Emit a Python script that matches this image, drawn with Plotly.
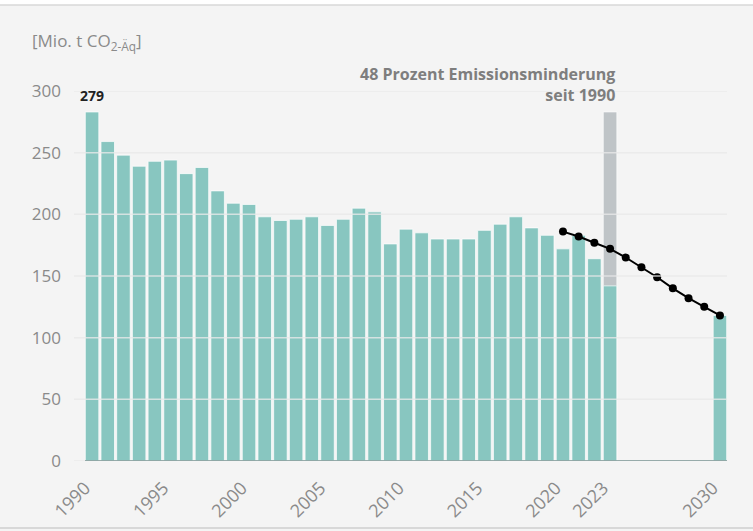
import plotly.graph_objects as go

# ---- data ----
years = list(range(1990, 2024)) + [2030]
emissions = [283, 259, 248, 239, 243, 244, 233, 238, 219, 209,
             208, 198, 195, 196, 198, 191, 196, 205, 202, 176,
             188, 185, 180, 180, 180, 187, 192, 198, 189, 183,
             172, 183, 164, 142, 118]
ref_year = [2023]
ref_value = [283]
target_years = list(range(2020, 2031))
target_values = [186, 182, 177, 172, 165, 157, 149, 140, 132, 125, 118]
tick_years = [1990, 1995, 2000, 2005, 2010, 2015, 2020, 2023, 2030]
first_label = "279"
unit_label = "[Mio. t CO<sub>2-Äq</sub>]"
note_label = "48 Prozent Emissionsminderung<br>seit 1990"

TEAL = "rgb(136,198,192)"
GREY = "rgb(191,196,199)"
BG = "#f4f4f4"
TXT = "#8a8a8a"
FONT = "Open Sans"

fig = go.Figure()
fig.add_bar(x=ref_year, y=ref_value, width=0.86, marker=dict(color=GREY, line=dict(color="rgba(255,255,255,0.6)", width=1)), hoverinfo="skip")
fig.add_bar(x=years, y=emissions, width=0.86, marker=dict(color=TEAL, line=dict(color="rgba(255,255,255,0.7)", width=1)))

# gridlines drawn above bars
shapes = []
for v in range(0, 301, 50):
    shapes.append(dict(type="line", xref="paper", yref="y", x0=0, x1=1, y0=v, y1=v,
                       line=dict(color="rgba(232,232,232,0.8)", width=1.5), layer="above"))
# zero line under the bars span
shapes.append(dict(type="line", xref="x", yref="y", x0=years[0] - 0.45, x1=years[-1] + 0.45, y0=0, y1=0,
                   line=dict(color="rgba(110,140,137,0.9)", width=1.5), layer="above"))
# frame lines
shapes.append(dict(type="rect", xref="paper", yref="paper", x0=-0.2, x1=1.2, y0=1.2324, y1=1.3,
                   fillcolor="white", line=dict(width=0), layer="below"))
shapes.append(dict(type="line", xref="paper", yref="paper", x0=-0.2, x1=1.2, y0=1.2324, y1=1.2324,
                   line=dict(color="#d8d8d8", width=1.5)))
shapes.append(dict(type="line", xref="paper", yref="paper", x0=-0.2, x1=1.2, y0=-0.181, y1=-0.181,
                   line=dict(color="#cfcfcf", width=1.5)))

fig.add_scatter(x=target_years, y=target_values, mode="lines+markers",
                line=dict(color="black", width=2), marker=dict(color="black", size=8))

annotations = [
    dict(text=unit_label, xref="paper", yref="paper", x=-0.068, y=1.135, xanchor="left", yanchor="middle",
         showarrow=False, font=dict(family=FONT, size=17, color=TXT)),
    dict(text="<b>" + first_label + "</b>", x=years[0], y=emissions[0], yshift=16, xanchor="center", yanchor="middle",
         showarrow=False, font=dict(family=FONT, size=14, color="#222222")),
    dict(text="<b>" + note_label + "</b>", x=ref_year[0] + 0.45, y=ref_value[0], yshift=4, xanchor="right", yanchor="bottom",
         align="right", showarrow=False, font=dict(family=FONT, size=16, color="#7e7e7e")),
]

fig.update_layout(
    width=753, height=531,
    margin=dict(l=74, r=26, t=91, b=70),
    paper_bgcolor=BG, plot_bgcolor=BG,
    barmode="overlay", showlegend=False,
    shapes=shapes, annotations=annotations,
    xaxis=dict(range=[1988.85, 2030.45], tickvals=tick_years, ticktext=[str(t) for t in tick_years],
               tickangle=-45, showgrid=False, zeroline=False, showline=False, ticks="", automargin=False,
               ticklabelstandoff=12, ticklabelshift=-7, tickfont=dict(family=FONT, size=18, color=TXT)),
    yaxis=dict(range=[0, 300], tickvals=list(range(0, 301, 50)), showgrid=False, zeroline=False,
               showline=False, ticks="", ticklabelstandoff=12, automargin=False,
               tickfont=dict(family=FONT, size=17, color=TXT)),
)
fig.write_html("out.html", config={"displayModeBar": False},
               post_script="document.body.style.margin='0';document.body.style.overflow='hidden';")
